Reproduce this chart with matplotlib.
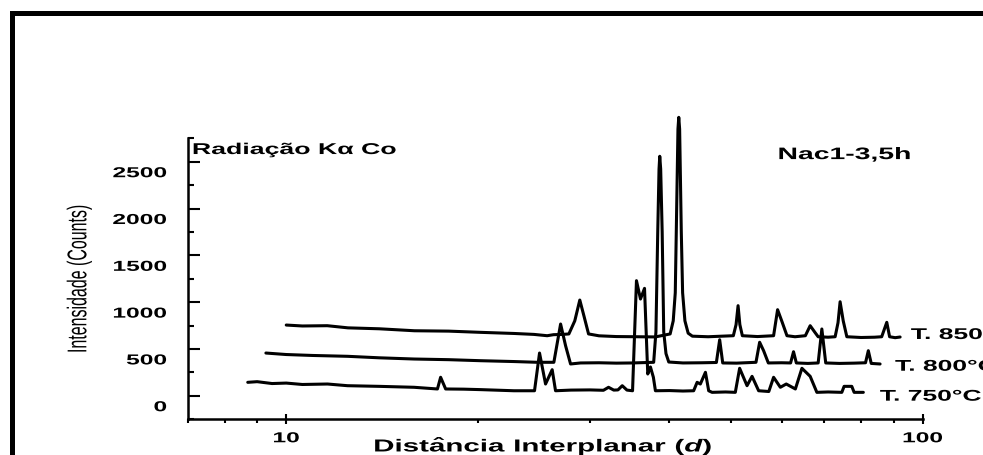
import matplotlib
matplotlib.use('Agg')
import matplotlib.pyplot as plt
from matplotlib import patheffects
from matplotlib.patches import Rectangle
from matplotlib.ticker import MultipleLocator, NullFormatter
from matplotlib.transforms import Affine2D, ScaledTranslation

plt.rcParams['font.family'] = ['Liberation Sans', 'DejaVu Sans']
plt.rcParams['font.weight'] = 'bold'
plt.rcParams['mathtext.fontset'] = 'custom'
plt.rcParams['mathtext.it'] = 'Liberation Sans:italic:bold'
plt.rcParams['mathtext.rm'] = 'Liberation Sans:bold'
plt.rcParams['mathtext.bf'] = 'Liberation Sans:bold'

# diffractograms, interplanar distance d vs counts (stacked as plotted)
d_850 = [10.0, 10.6, 11.6, 12.5, 14.0, 15.9, 18.0, 20.2, 22.8, 24.5, 25.7, 26.3, 27.2, 27.8, 28.4,
         28.92, 29.35, 29.85, 31.0, 33.0, 35.5, 38.0, 40.1, 40.55, 40.85, 41.0, 41.25, 41.37, 41.5,
         41.75, 41.95, 42.3, 42.8, 43.46, 46.0, 50.40, 50.9, 51.27, 51.6, 52.07, 55.0, 58.30, 59.15,
         60.10, 61.19, 63.0, 65.4, 66.55, 67.7, 68.5, 71.0, 72.84, 73.6, 74.16, 75.0, 75.99, 80.0,
         84.0, 86.2, 87.80, 88.7, 90.5, 92.14]
c_850 = [755, 745, 748, 725, 715, 694, 690, 677, 665, 655, 641, 652, 655, 660, 800,
         1022, 855, 660, 640, 632, 630, 628, 660, 800, 1100, 1749, 2849, 2974, 2849,
         1749, 1100, 800, 668, 636, 630, 641, 760, 962, 760, 641, 632, 641, 919,
         791, 641, 630, 641, 748, 677, 630, 625, 630, 780, 1004, 800, 630, 622,
         625, 630, 784, 630, 620, 627]

d_800 = [9.29, 10.0, 11.0, 12.48, 14.0, 15.88, 18.0, 20.21, 22.8, 24.79, 26.33, 26.98, 27.47,
         27.97, 29.0, 31.0, 33.0, 35.0, 37.0, 37.78, 38.09, 38.34, 38.52, 38.62, 38.75, 38.96,
         39.18, 39.50, 39.90, 42.0, 45.0, 47.4, 47.97, 48.5, 51.0, 54.7, 55.43, 56.23, 57.2,
         60.0, 62.0, 62.66, 63.3, 66.0, 68.5, 69.42, 70.4, 74.0, 78.0, 81.3, 82.13, 83.0, 85.70]
c_800 = [456, 440, 430, 421, 405, 392, 385, 374, 365, 357, 357, 766, 534,
         339, 350, 352, 348, 350, 355, 357, 681, 1749, 2422, 2558, 2422, 1749,
         681, 450, 360, 350, 352, 355, 598, 350, 348, 357, 571, 481, 350,
         352, 350, 470, 350, 345, 350, 713, 350, 345, 348, 352, 481, 345, 339]

d_750 = [8.70, 9.0, 9.5, 10.0, 10.6, 11.61, 12.48, 14.0, 15.88, 17.28, 17.48, 17.80, 19.0,
         20.21, 22.79, 24.55, 25.00, 25.55, 26.17, 26.49, 28.0, 30.0, 31.5, 32.09, 32.7, 33.2,
         33.72, 34.3, 35.0, 35.50, 36.02, 36.55, 36.98, 37.34, 37.74, 38.02, 40.0, 42.0, 43.66,
         44.21, 44.73, 45.56, 46.10, 46.67, 49.0, 50.76, 51.56, 52.96, 53.93, 55.23, 57.3, 58.30,
         59.74, 61.03, 63.08, 64.59, 66.55, 68.18, 71.0, 74.62, 75.24, 77.36, 78.02, 80.66]
c_750 = [143, 150, 130, 135, 120, 125, 107, 100, 90, 72, 197, 72, 70,
         65, 53, 53, 456, 125, 278, 53, 60, 62, 58, 90, 60, 62,
         107, 60, 53, 1229, 1033, 1147, 232, 307, 197, 53, 55, 50, 53,
         143, 125, 250, 53, 36, 40, 36, 293, 107, 207, 53, 45, 197,
         90, 125, 72, 293, 207, 36, 40, 36, 100, 100, 36, 36]

series = [(d_850, c_850), (d_800, c_800), (d_750, c_750)]
temp_labels = ['T. 850\u00b0C', 'T. 800\u00b0C', 'T. 750\u00b0C']

x_ticks = [10, 100]
x_ticklabels = ['10', '100']
y_ticks = [0, 500, 1000, 1500, 2000, 2500]

WIDE = 1.7  # lettering is drawn wider than it is tall


class Stretch(patheffects.AbstractPathEffect):
    """Scale glyph outlines along (sx) or across (sy) the baseline."""

    def __init__(self, sx=1.0, sy=1.0, anchor='center'):
        super().__init__()
        self.sx, self.sy, self.anchor = sx, sy, anchor

    def draw_path(self, renderer, gc, tpath, affine, rgbFace=None):
        if len(tpath.vertices) == 0:
            return
        ext = tpath.get_extents()
        x0 = {'left': ext.x0, 'center': 0.5 * (ext.x0 + ext.x1), 'right': ext.x1}[self.anchor]
        y0 = 0.5 * (ext.y0 + ext.y1)
        t = Affine2D().translate(-x0, -y0).scale(self.sx, self.sy).translate(x0, y0)
        renderer.draw_path(gc, tpath, t + affine, rgbFace)


fig = plt.figure(figsize=(9.83, 4.56), dpi=100)
ax = fig.add_axes([0.1909, 0.0787, 0.7478, 0.6158])

for d, c in series:
    ax.plot(d, c, color='k', lw=2.2, clip_on=False,
            solid_joinstyle='round', solid_capstyle='round')

ax.set_xscale('log')
ax.set_xlim(7, 100)
ax.set_ylim(-250, 2750)
ax.set_xticks(x_ticks, labels=x_ticklabels)
ax.xaxis.set_minor_formatter(NullFormatter())
ax.set_yticks(y_ticks, labels=[str(v) for v in y_ticks])
ax.yaxis.set_minor_locator(MultipleLocator(250))

for s in ['top', 'right']:
    ax.spines[s].set_visible(False)
for s in ['left', 'bottom']:
    ax.spines[s].set_linewidth(1.8)

ax.tick_params(axis='y', which='major', direction='in', length=8.6, width=1.5,
               pad=15, labelsize=10.4)
ax.tick_params(axis='y', which='minor', direction='in', length=4.3, width=1.5)
ax.tick_params(axis='x', which='major', direction='inout', length=6.5, width=1.5,
               pad=5.5, labelsize=10.4)
ax.tick_params(axis='x', which='minor', direction='out', length=3, width=1.5)

ax.set_xlabel(r'$\mathbf{Dist\^ancia\ Interplanar\ (}\mathit{d}\mathbf{)}$',
              fontsize=12.5, va='center', path_effects=[Stretch(WIDE)])
ax.xaxis.set_label_coords(0.484, -0.0958)
ax.set_ylabel('Intensidade (Counts)', fontsize=11.5, fontweight='normal', va='center',
              path_effects=[Stretch(1.0, WIDE)])
ax.yaxis.set_label_coords(-0.1479, 0.5)

ax.text(0.0068, 0.944, 'Radia\u00e7\u00e3o K\u03b1 Co', transform=ax.transAxes,
        fontsize=11.3, ha='left', va='baseline', path_effects=[Stretch(WIDE, anchor='left')])
ax.text(0.8035, 0.926, 'Nac1-3,5h', transform=ax.transAxes,
        fontsize=12, ha='left', va='baseline', path_effects=[Stretch(WIDE, anchor='left')])

# temperature tags just past the end of each pattern
for (d, c), lab, dx, dy in zip(series, temp_labels, [1.04, 1.056, 1.062], [-21, -72, -89]):
    ax.text(d[-1] * dx, c[-1] + dy, lab, fontsize=11.2, ha='left', va='baseline',
            clip_on=False, path_effects=[Stretch(WIDE, anchor='left')])

# outer frame, only top and left edges fall inside the canvas
fig.patches.append(Rectangle((11.5 / 983, -0.5), 2.0, 0.5 + 1 - 13.5 / 456,
                             transform=fig.transFigure, fill=False, ec='k', lw=3.6))

fig.canvas.draw()
shift = ScaledTranslation(0, -0.1, fig.dpi_scale_trans)
for lab in ax.get_yticklabels():
    lab.set_path_effects([Stretch(WIDE, anchor='right')])
    lab.set_transform(lab.get_transform() + shift)
for lab in ax.get_xticklabels():
    lab.set_path_effects([Stretch(WIDE)])

fig.savefig('out.png', dpi=100, facecolor='white')
